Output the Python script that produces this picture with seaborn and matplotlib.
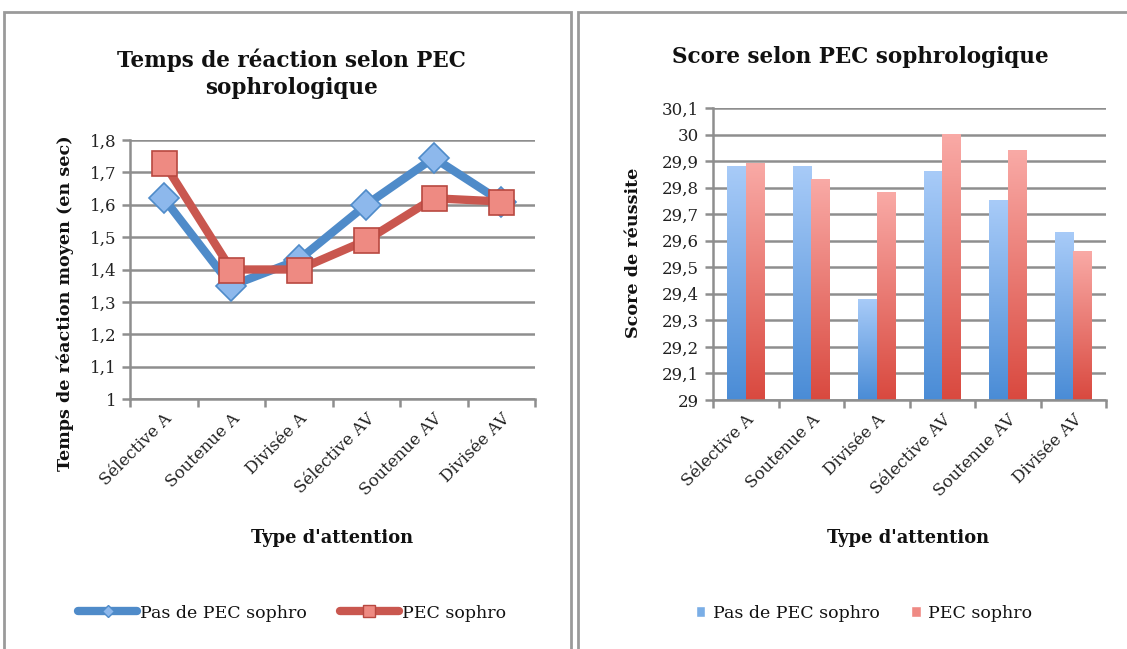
import numpy as np
import pandas as pd
import matplotlib
matplotlib.use("Agg")
import matplotlib.pyplot as plt
from matplotlib.patches import Rectangle, Patch
from matplotlib.lines import Line2D
from matplotlib.colors import LinearSegmentedColormap
import seaborn as sns

categories = ["Sélective A", "Soutenue A", "Divisée A", "Sélective AV", "Soutenue AV", "Divisée AV"]
series_names = ["Pas de PEC sophro", "PEC sophro"]
temps_pas = [1.62, 1.35, 1.43, 1.60, 1.745, 1.61]
temps_pec = [1.73, 1.40, 1.40, 1.49, 1.62, 1.61]
score_pas = [29.88, 29.88, 29.38, 29.86, 29.75, 29.63]
score_pec = [29.89, 29.83, 29.78, 30.00, 29.94, 29.56]
temps_ticks = [1.0, 1.1, 1.2, 1.3, 1.4, 1.5, 1.6, 1.7, 1.8]
score_ticks = [29.0, 29.1, 29.2, 29.3, 29.4, 29.5, 29.6, 29.7, 29.8, 29.9, 30.0, 30.1]

sns.set_theme(style="white")
plt.rcParams["font.family"] = ["DejaVu Serif"]
plt.rcParams["text.color"] = "#111111"

W, H = 1127, 649
fig = plt.figure(figsize=(W / 100, H / 100), dpi=100)

def px_axes(x0, y0, x1, y1):
    return fig.add_axes([x0 / W, 1 - y1 / H, (x1 - x0) / W, (y1 - y0) / H])

def fmt(v):
    s = ("%.1f" % v).replace(".", ",")
    if s.endswith(",0"):
        s = s[:-2]
    return s

grid_c = "#8e8e8e"
blue_line = "#4f8bc9"
red_line = "#c9574f"
TICK_FS = 12
LAB_FS = 12.6
TITLE_FS = 15.5

# panel borders
fig.add_artist(Rectangle((4 / W, -0.1), (571 - 4) / W, 1.1 - 12 / H, transform=fig.transFigure,
                         fill=False, edgecolor="#9a9a9a", linewidth=2))
fig.add_artist(Rectangle((578 / W, -0.1), 0.6, 1.1 - 12 / H, transform=fig.transFigure,
                         fill=False, edgecolor="#9a9a9a", linewidth=2))

def style_axes(ax, ticks):
    ax.set_yticks(ticks)
    ax.set_yticklabels([fmt(t) for t in ticks], fontsize=TICK_FS, color="#222222")
    ax.set_ylim(ticks[0], ticks[-1])
    ax.set_xlim(-0.5, 5.5)
    ax.yaxis.grid(True, color=grid_c, linewidth=1.8)
    ax.set_axisbelow(True)
    for s in ["top", "right"]:
        ax.spines[s].set_visible(False)
    for s in ["left", "bottom"]:
        ax.spines[s].set_color(grid_c)
        ax.spines[s].set_linewidth(1.8)
    ax.set_xticks(np.arange(-0.5, 6, 1.0))
    ax.set_xticklabels([])
    ax.set_xticks(np.arange(6), minor=True)
    ax.set_xticklabels(categories, minor=True, rotation=45, ha="right", va="top",
                       rotation_mode="anchor", fontsize=TICK_FS, color="#222222")
    ax.tick_params(axis="x", which="major", length=6, width=1.8, color=grid_c, direction="out", bottom=True)
    ax.tick_params(axis="x", which="minor", length=0, pad=8, bottom=True)
    ax.tick_params(axis="y", length=6, width=1.8, color=grid_c, direction="out", left=True, pad=4)

# ---- Left: line chart
ax1 = px_axes(130, 140, 535, 399)
df_t = pd.DataFrame({"cat": list(range(6)) * 2,
                     "val": temps_pas + temps_pec,
                     "serie": [series_names[0]] * 6 + [series_names[1]] * 6})
sns.lineplot(data=df_t, x="cat", y="val", hue="serie", style="serie",
             palette=[blue_line, red_line], markers=["D", "s"], dashes=False,
             linewidth=6, ax=ax1, legend=False, zorder=3)
lines = ax1.get_lines()
lines[0].set_markersize(15)
lines[0].set_markerfacecolor("#8db8ec")
lines[0].set_markeredgecolor("#4f8bc9")
lines[0].set_markeredgewidth(1.2)
lines[1].set_markersize(18)
lines[1].set_markerfacecolor("#ee8a82")
lines[1].set_markeredgecolor("#b84840")
lines[1].set_markeredgewidth(1.2)
style_axes(ax1, temps_ticks)
ax1.set_xlabel("")
ax1.set_ylabel("")
fig.text(291 / W, 1 - 74 / H, "Temps de réaction selon PEC\nsophrologique", ha="center", va="center",
         fontsize=TITLE_FS, fontweight="bold", linespacing=1.3)
fig.text(65 / W, 1 - 303 / H, "Temps de réaction moyen (en sec)", rotation=90, ha="center", va="center",
         fontsize=LAB_FS, fontweight="bold")
fig.text(332 / W, 1 - 538 / H, "Type d'attention", ha="center", va="center", fontsize=12.9, fontweight="bold")

leg1 = [Line2D([0], [0], color=blue_line, lw=6, marker="D", markersize=6, markerfacecolor="#8db8ec",
               markeredgecolor=blue_line),
        Line2D([0], [0], color=red_line, lw=6, marker="s", markersize=8, markerfacecolor="#ee8a82",
               markeredgecolor="#b84840")]
fig.legend(leg1, series_names, loc="center", bbox_to_anchor=(292 / W, 1 - 613 / H), ncol=2, frameon=False,
           fontsize=12.5, handlelength=3.4, handletextpad=0.15, columnspacing=1.9)

# ---- Right: bar chart
ax2 = px_axes(713, 108, 1106, 400)
df_s = pd.DataFrame({"cat": categories * 2,
                     "val": score_pas + score_pec,
                     "serie": [series_names[0]] * 6 + [series_names[1]] * 6})
sns.barplot(data=df_s, x="cat", y="val", hue="serie", order=categories, hue_order=series_names,
            palette=["#7aaee6", "#e8766e"], width=0.56, ax=ax2, legend=False, zorder=2)
style_axes(ax2, score_ticks)
ax2.set_xlabel("")
ax2.set_ylabel("")

cmap_b = LinearSegmentedColormap.from_list("b", ["#4a8cd6", "#a8cbf8"])
cmap_r = LinearSegmentedColormap.from_list("r", ["#d9493f", "#f9aaa6"])
grad = np.linspace(0, 1, 256).reshape(-1, 1)
ybot = score_ticks[0]
for i, p in enumerate(list(ax2.patches)):
    x0, w = p.get_x(), p.get_width()
    top = p.get_y() + p.get_height()
    cm = cmap_b if i < 6 else cmap_r
    ax2.imshow(grad, extent=[x0, x0 + w, ybot, top], origin="lower", aspect="auto", cmap=cm, zorder=2.5)
    p.set_alpha(0)
ax2.set_xlim(-0.5, 5.5)
ax2.set_ylim(score_ticks[0], score_ticks[-1])

fig.text(860 / W, 1 - 57 / H, "Score selon PEC sophrologique", ha="center", va="center",
         fontsize=TITLE_FS, fontweight="bold")
fig.text(633 / W, 1 - 253 / H, "Score de réussite", rotation=90, ha="center", va="center",
         fontsize=LAB_FS, fontweight="bold")
fig.text(908 / W, 1 - 538 / H, "Type d'attention", ha="center", va="center", fontsize=12.9, fontweight="bold")

leg2 = [Patch(facecolor="#7aaee6"), Patch(facecolor="#ef8a84")]
fig.legend(leg2, series_names, loc="center", bbox_to_anchor=(864 / W, 1 - 613 / H), ncol=2, frameon=False,
           fontsize=12.5, handlelength=0.55, handleheight=0.55, handletextpad=0.45, columnspacing=1.8)

fig.savefig("out.png", dpi=100, facecolor="white")
